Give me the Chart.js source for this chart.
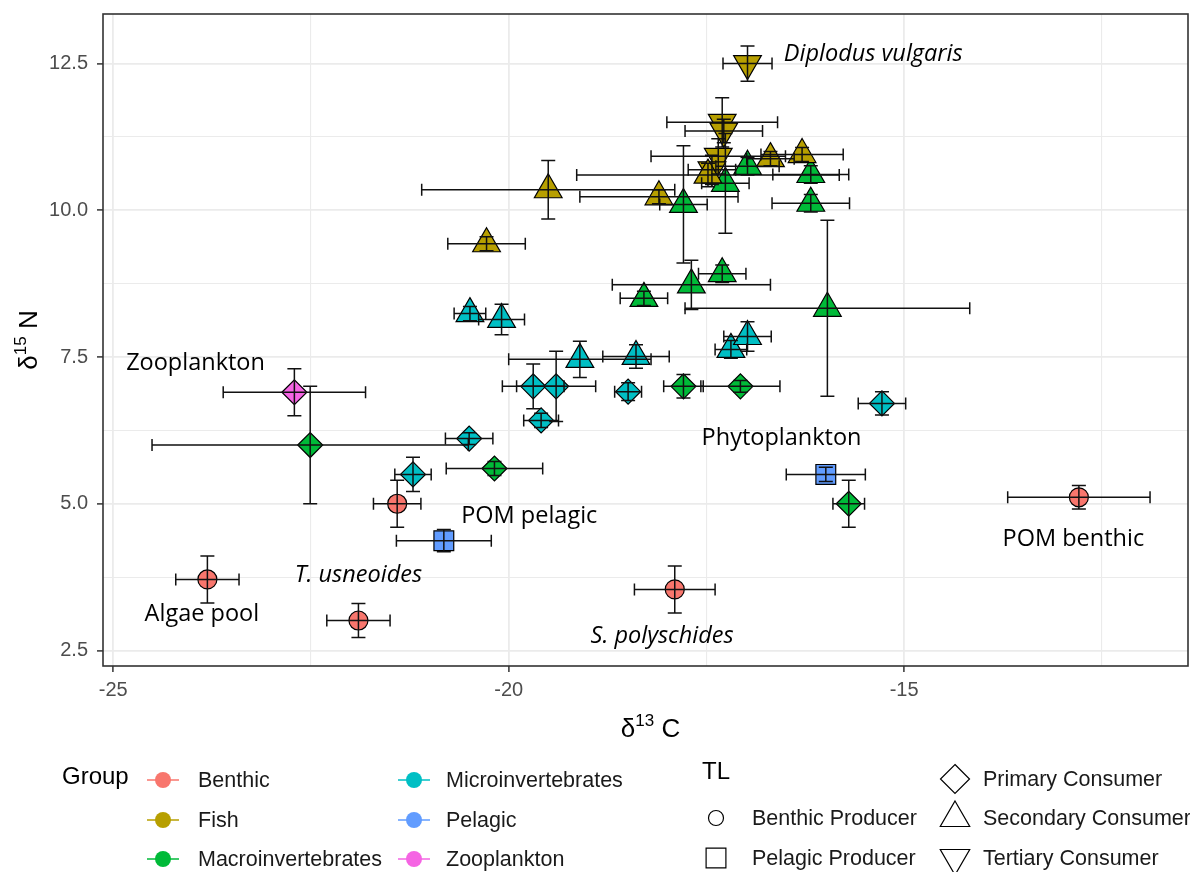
<!DOCTYPE html>
<html>
<head>
<meta charset="utf-8">
<title>Isotope biplot</title>
<script src="https://cdn.jsdelivr.net/npm/chart.js@4.4.1/dist/chart.umd.min.js"></script>
<style>
  html, body { margin: 0; padding: 0; background: #ffffff; }
  #wrap { width: 1190px; height: 872px; }
</style>
</head>
<body>
<div id="wrap"><canvas id="chart" width="1190" height="872"></canvas></div>
<script>
// groups and colours (ggplot default hue palette)
const groups = ['Benthic', 'Fish', 'Macroinvertebrates', 'Microinvertebrates', 'Pelagic', 'Zooplankton'];
const groupColors = ['#F8766D', '#B79F00', '#00BA38', '#00BFC4', '#619CFF', '#F564E3'];
const levels = ['Benthic Producer', 'Pelagic Producer', 'Primary Consumer', 'Secondary Consumer', 'Tertiary Consumer'];

// Benthic producers
const benthicX    = [-23.81, -21.90, -21.41, -17.90, -12.79];
const benthicY    = [3.71, 3.01, 5.00, 3.54, 5.11];
const benthicXErr = [0.40, 0.40, 0.30, 0.51, 0.90];
const benthicYErr = [0.40, 0.29, 0.40, 0.40, 0.20];
const benthicTL   = ['Benthic Producer', 'Benthic Producer', 'Benthic Producer', 'Benthic Producer', 'Benthic Producer'];

// Fish
const fishX    = [-16.98, -17.30, -17.28, -17.35, -17.43, -17.48, -19.50, -20.28, -18.10, -16.69, -16.29];
const fishY    = [12.50, 11.50, 11.35, 10.92, 10.69, 10.60, 10.35, 9.43, 10.23, 10.88, 10.95];
const fishXErr = [0.31, 0.70, 0.49, 0.85, 0.30, 1.66, 1.60, 0.49, 1.00, 0.30, 0.52];
const fishYErr = [0.30, 0.42, 0.20, 0.30, 0.25, 0.20, 0.50, 0.12, 0.12, 0.12, 0.12];
const fishTL   = ['Tertiary Consumer', 'Tertiary Consumer', 'Tertiary Consumer', 'Tertiary Consumer', 'Tertiary Consumer',
                  'Secondary Consumer', 'Secondary Consumer', 'Secondary Consumer', 'Secondary Consumer', 'Secondary Consumer', 'Secondary Consumer'];

// Macroinvertebrates
const macroX    = [-22.51, -20.18, -17.79, -17.07, -15.70, -17.79, -17.26, -16.98, -16.18, -16.18, -18.29, -17.69, -17.30, -15.97];
const macroY    = [6.00, 5.60, 7.00, 7.00, 5.00, 10.10, 10.46, 10.75, 10.61, 10.12, 8.50, 8.73, 8.92, 8.33];
const macroXErr = [2.00, 0.61, 0.25, 0.50, 0.20, 0.30, 0.30, 0.40, 0.48, 0.49, 0.30, 1.00, 0.30, 1.80];
const macroYErr = [1.00, 0.12, 0.20, 0.10, 0.40, 1.00, 0.85, 0.15, 0.15, 0.15, 0.12, 0.42, 0.15, 1.50];
const macroTL   = ['Primary Consumer', 'Primary Consumer', 'Primary Consumer', 'Primary Consumer', 'Primary Consumer',
                   'Secondary Consumer', 'Secondary Consumer', 'Secondary Consumer', 'Secondary Consumer', 'Secondary Consumer',
                   'Secondary Consumer', 'Secondary Consumer', 'Secondary Consumer', 'Secondary Consumer'];

// Microinvertebrates
const microX    = [-20.49, -20.09, -19.10, -18.39, -17.19, -16.98, -19.69, -19.40, -19.59, -18.49, -20.50, -21.21, -15.28];
const microY    = [8.24, 8.14, 7.46, 7.51, 7.63, 7.85, 7.00, 7.00, 6.42, 6.91, 6.11, 5.50, 6.71];
const microXErr = [0.20, 0.29, 0.90, 0.42, 0.20, 0.30, 0.39, 0.50, 0.22, 0.17, 0.30, 0.23, 0.30];
const microYErr = [0.12, 0.26, 0.31, 0.20, 0.15, 0.25, 0.38, 0.60, 0.12, 0.15, 0.10, 0.29, 0.20];
const microTL   = ['Secondary Consumer', 'Secondary Consumer', 'Secondary Consumer', 'Secondary Consumer', 'Secondary Consumer', 'Secondary Consumer',
                   'Primary Consumer', 'Primary Consumer', 'Primary Consumer', 'Primary Consumer', 'Primary Consumer', 'Primary Consumer', 'Primary Consumer'];

// Pelagic producers
const pelagicX    = [-20.82, -15.99];
const pelagicY    = [4.37, 5.50];
const pelagicXErr = [0.60, 0.50];
const pelagicYErr = [0.19, 0.12];
const pelagicTL   = ['Pelagic Producer', 'Pelagic Producer'];

// Zooplankton
const zooX    = [-22.71];
const zooY    = [6.90];
const zooXErr = [0.90];
const zooYErr = [0.40];
const zooTL   = ['Primary Consumer'];

// text labels placed on the plot (centre x, centre y, in data units)
const labelText   = ['Diplodus vulgaris', 'Zooplankton', 'Phytoplankton', 'POM pelagic', 'T. usneoides', 'Algae pool', 'S. polyschides', 'POM benthic'];
const labelX      = [-15.39, -23.96, -16.55, -19.74, -21.90, -23.88, -18.06, -12.86];
const labelY      = [12.65, 7.39, 6.11, 4.78, 3.78, 3.11, 2.74, 4.39];
const labelItalic = [true, false, false, false, true, false, true, false];

const series = [
  { x: benthicX, y: benthicY, xe: benthicXErr, ye: benthicYErr, tl: benthicTL },
  { x: fishX, y: fishY, xe: fishXErr, ye: fishYErr, tl: fishTL },
  { x: macroX, y: macroY, xe: macroXErr, ye: macroYErr, tl: macroTL },
  { x: microX, y: microY, xe: microXErr, ye: microYErr, tl: microTL },
  { x: pelagicX, y: pelagicY, xe: pelagicXErr, ye: pelagicYErr, tl: pelagicTL },
  { x: zooX, y: zooY, xe: zooXErr, ye: zooYErr, tl: zooTL }
];

// marker shape for each trophic level
const shapeOf = {
  'Benthic Producer':   { style: 'circle',   r: 9.5,  rot: 0 },
  'Pelagic Producer':   { style: 'rect',     r: 14,   rot: 0 },
  'Primary Consumer':   { style: 'rectRot',  r: 12.5, rot: 0 },
  'Secondary Consumer': { style: 'triangle', r: 16,   rot: 0 },
  'Tertiary Consumer':  { style: 'triangle', r: 16,   rot: 180 }
};

const datasets = series.map((s, i) => ({
  label: groups[i],
  data: s.x.map((v, j) => ({ x: v, y: s.y[j] })),
  backgroundColor: groupColors[i],
  borderColor: '#000000',
  borderWidth: 1.2,
  pointStyle: ctx => shapeOf[s.tl[ctx.dataIndex]].style,
  pointRadius: ctx => shapeOf[s.tl[ctx.dataIndex]].r,
  pointRotation: ctx => shapeOf[s.tl[ctx.dataIndex]].rot,
  pointHoverRadius: ctx => shapeOf[s.tl[ctx.dataIndex]].r
}));

const isMajor = (v, step) => Math.abs(v / step - Math.round(v / step)) < 1e-6;

// error bars, labels and panel border
const overlayPlugin = {
  id: 'overlay',
  afterDatasetsDraw(chart) {
    const ctx = chart.ctx;
    const xs = chart.scales.x, ys = chart.scales.y;
    const area = chart.chartArea;
    ctx.save();
    ctx.beginPath();
    ctx.rect(area.left, area.top, area.right - area.left, area.bottom - area.top);
    ctx.clip();
    ctx.strokeStyle = '#111111';
    ctx.lineWidth = 1.5;
    series.forEach(s => {
      s.x.forEach((v, j) => {
        const px = xs.getPixelForValue(v), py = ys.getPixelForValue(s.y[j]);
        const x0 = xs.getPixelForValue(v - s.xe[j]), x1 = xs.getPixelForValue(v + s.xe[j]);
        const y0 = ys.getPixelForValue(s.y[j] - s.ye[j]), y1 = ys.getPixelForValue(s.y[j] + s.ye[j]);
        ctx.beginPath();
        ctx.moveTo(x0, py); ctx.lineTo(x1, py);
        ctx.moveTo(x0, py - 6); ctx.lineTo(x0, py + 6);
        ctx.moveTo(x1, py - 6); ctx.lineTo(x1, py + 6);
        ctx.moveTo(px, y0); ctx.lineTo(px, y1);
        ctx.moveTo(px - 7, y0); ctx.lineTo(px + 7, y0);
        ctx.moveTo(px - 7, y1); ctx.lineTo(px + 7, y1);
        ctx.stroke();
      });
    });
    ctx.restore();

    ctx.save();
    ctx.fillStyle = '#000000';
    ctx.textAlign = 'center';
    ctx.textBaseline = 'middle';
    labelText.forEach((t, i) => {
      ctx.font = (labelItalic[i] ? 'italic ' : '') + '23.5px "Open Sans"';
      ctx.fillText(t, xs.getPixelForValue(labelX[i]), ys.getPixelForValue(labelY[i]));
    });
    ctx.strokeStyle = '#333333';
    ctx.lineWidth = 1.6;
    ctx.strokeRect(area.left, area.top, area.right - area.left, area.bottom - area.top);
    ctx.restore();
  },
  afterDraw(chart) {
    const ctx = chart.ctx;
    const area = chart.chartArea;
    ctx.save();
    ctx.fillStyle = '#000000';
    ctx.textBaseline = 'alphabetic';
    // axis titles with superscripts
    drawIsotope(ctx, '13', 'C', (area.left + area.right) / 2 + 5, 737);
    ctx.save();
    ctx.translate(37, (area.top + area.bottom) / 2);
    ctx.rotate(-Math.PI / 2);
    drawIsotope(ctx, '15', 'N', 0, 0);
    ctx.restore();
    drawLegend(ctx);
    ctx.restore();
  }
};

function drawIsotope(ctx, mass, el, cx, base) {
  const big = '26px "Liberation Sans"', small = '17px "Liberation Sans"';
  ctx.font = big;
  const w1 = ctx.measureText('\u03B4').width;
  const w3 = ctx.measureText(' ' + el).width;
  ctx.font = small;
  const w2 = ctx.measureText(mass).width;
  let x = cx - (w1 + w2 + w3) / 2;
  ctx.textAlign = 'left';
  ctx.font = big;
  ctx.fillText('\u03B4', x, base);
  x += w1;
  ctx.font = small;
  ctx.fillText(mass, x, base - 11);
  x += w2;
  ctx.font = big;
  ctx.fillText(' ' + el, x, base);
}

function shapePath(ctx, style, x, y, r, rot) {
  ctx.beginPath();
  if (style === 'circle') {
    ctx.arc(x, y, r, 0, Math.PI * 2);
  } else if (style === 'rect') {
    const h = r * Math.SQRT1_2;
    ctx.rect(x - h, y - h, 2 * h, 2 * h);
  } else if (style === 'rectRot') {
    ctx.moveTo(x, y - r); ctx.lineTo(x + r, y); ctx.lineTo(x, y + r); ctx.lineTo(x - r, y); ctx.closePath();
  } else {
    const sgn = rot ? -1 : 1;
    const a = Math.PI * 2 / 3;
    ctx.moveTo(x, y - sgn * r);
    ctx.lineTo(x + Math.sin(a) * r, y - sgn * Math.cos(a) * r);
    ctx.lineTo(x - Math.sin(a) * r, y - sgn * Math.cos(a) * r);
    ctx.closePath();
  }
}

function drawLegend(ctx) {
  ctx.textAlign = 'left';
  ctx.textBaseline = 'middle';
  ctx.fillStyle = '#000000';
  ctx.font = '24px "Liberation Sans"';
  ctx.fillText('Group', 62, 777);
  const keyX = [163, 414], textX = [198, 446], rowY = [780, 820, 859];
  groups.forEach((g, i) => {
    const col = Math.floor(i / 3), row = i % 3;
    const kx = keyX[col], ky = rowY[row];
    ctx.strokeStyle = groupColors[i];
    ctx.lineWidth = 1.5;
    ctx.beginPath(); ctx.moveTo(kx - 16, ky); ctx.lineTo(kx + 16, ky); ctx.stroke();
    ctx.fillStyle = groupColors[i];
    shapePath(ctx, 'circle', kx, ky, 8, 0);
    ctx.fill();
    ctx.fillStyle = '#1a1a1a';
    ctx.font = '21.5px "Liberation Sans"';
    ctx.fillText(g, textX[col], ky + 1);
  });

  ctx.fillStyle = '#000000';
  ctx.font = '24px "Liberation Sans"';
  ctx.fillText('TL', 702, 772);
  const tlKeyX = [716, 716, 955, 955, 955];
  const tlTextX = [752, 752, 983, 983, 983];
  const tlRowY = [818, 858, 779, 818, 858];
  const tlSize = [7.5, 14, 14.5, 17, 17];
  levels.forEach((lv, i) => {
    const sh = shapeOf[lv];
    ctx.strokeStyle = '#000000';
    ctx.lineWidth = 1.2;
    shapePath(ctx, sh.style, tlKeyX[i], tlRowY[i], tlSize[i], sh.rot);
    ctx.stroke();
    ctx.fillStyle = '#1a1a1a';
    ctx.font = '21.5px "Liberation Sans"';
    ctx.fillText(lv, tlTextX[i], tlRowY[i] + 1);
  });
}

// drop the label overhang padding so the panel sits where layout.padding puts it
function noOverhang(s) {
  s.paddingTop = 0; s.paddingBottom = 0; s.paddingLeft = 0; s.paddingRight = 0;
}

new Chart(document.getElementById('chart'), {
  type: 'scatter',
  data: { datasets: datasets },
  options: {
    responsive: false,
    animation: false,
    devicePixelRatio: 1,
    layout: { autoPadding: false, padding: { left: 0, right: 2, top: 14, bottom: 136 } },
    plugins: {
      legend: { display: false },
      tooltip: { enabled: false }
    },
    scales: {
      x: {
        type: 'linear',
        min: -25.13,
        max: -11.41,
        ticks: {
          stepSize: 2.5,
          includeBounds: false,
          autoSkip: false,
          maxRotation: 0,
          color: '#4d4d4d',
          padding: 6,
          font: { family: 'Liberation Sans', size: 20 },
          callback: v => (isMajor(v, 5) ? String(v) : '')
        },
        grid: {
          color: '#ebebeb',
          lineWidth: c => (c.tick && isMajor(c.tick.value, 5) ? 1.8 : 1.1),
          tickColor: c => (c.tick && isMajor(c.tick.value, 5) ? '#333333' : 'rgba(0,0,0,0)'),
          tickLength: 6,
          tickWidth: 1.5
        },
        border: { display: false },
        afterFit: s => { s.height = 70; noOverhang(s); }
      },
      y: {
        type: 'linear',
        min: 2.235,
        max: 13.345,
        ticks: {
          stepSize: 1.25,
          includeBounds: false,
          autoSkip: false,
          color: '#4d4d4d',
          padding: 9,
          font: { family: 'Liberation Sans', size: 20 },
          callback: v => (isMajor(v - 2.5, 2.5) ? v.toFixed(1) : '')
        },
        grid: {
          color: '#ebebeb',
          lineWidth: c => (c.tick && isMajor(c.tick.value - 2.5, 2.5) ? 1.8 : 1.1),
          tickColor: c => (c.tick && isMajor(c.tick.value - 2.5, 2.5) ? '#333333' : 'rgba(0,0,0,0)'),
          tickLength: 6,
          tickWidth: 1.5
        },
        border: { display: false },
        afterFit: s => { s.width = 103; noOverhang(s); }
      }
    }
  },
  plugins: [overlayPlugin]
});
</script>
</body>
</html>
